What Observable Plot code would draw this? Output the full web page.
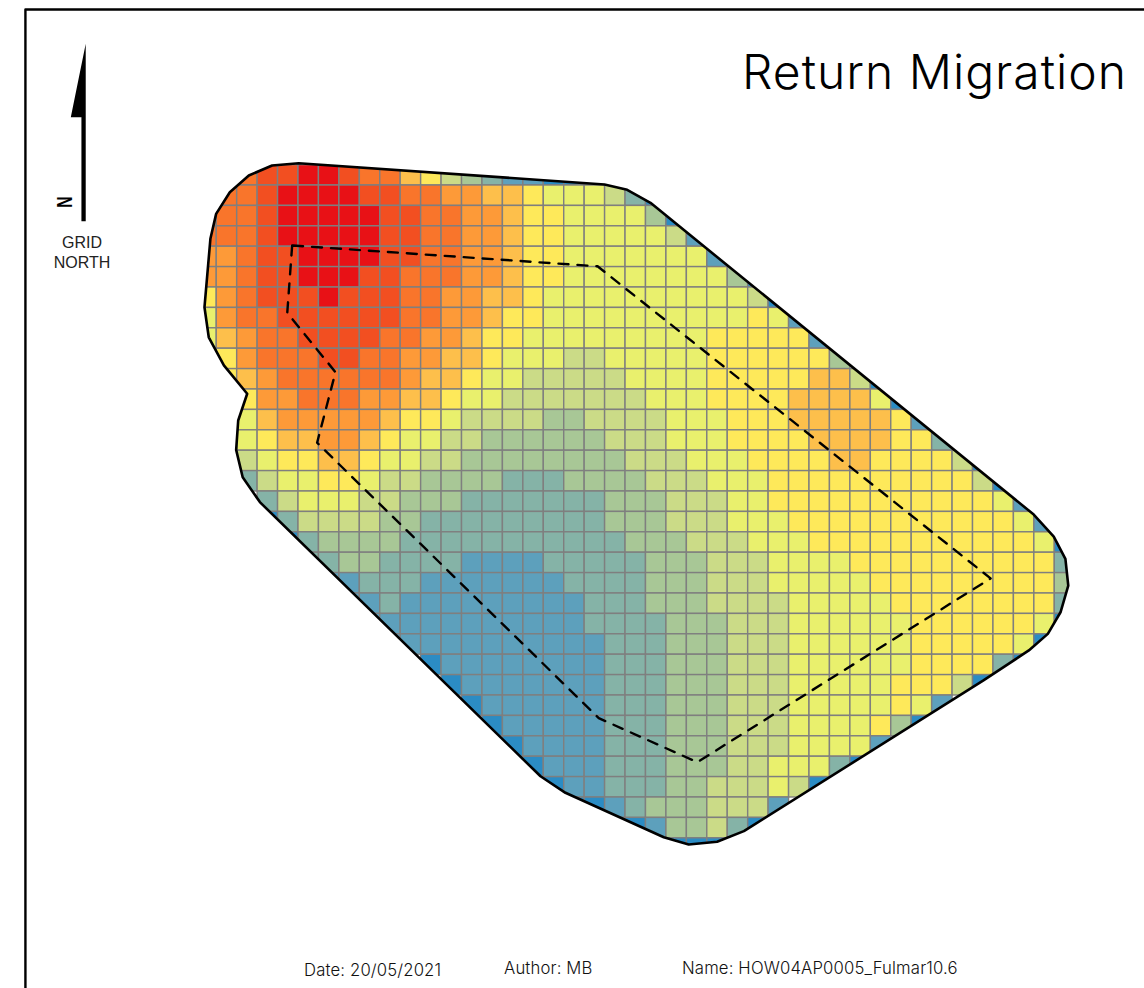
<!DOCTYPE html>
<html>
<head>
<meta charset="utf-8">
<script src="https://cdn.jsdelivr.net/npm/d3@7"></script>
<script src="https://cdn.jsdelivr.net/npm/@observablehq/plot@0.6"></script>
<style>
  html, body { margin: 0; padding: 0; background: #fff; overflow: hidden; }
  #page { position: relative; width: 1144px; height: 988px; }
  #page svg { display: block; }
  .lbl { position: absolute; white-space: nowrap; color: #000; line-height: 1; }
  .foot { font: 300 16.7px Inter, sans-serif; letter-spacing: 0.15px; color: #111; }
  .grid-north { font: 400 16px "Liberation Sans", Arial, sans-serif; color: #222; text-align: center; line-height: 19.8px; white-space: pre; }
</style>
</head>
<body>
<div id="page">
  <div class="lbl" id="title" style="left:742px;top:48px;font:300 48px/1 Inter,sans-serif;letter-spacing:1px;">Return Migration</div>
  <div class="lbl" style="left:55px;top:191px;width:20px;text-align:center;font:700 22px/22px 'Liberation Sans',sans-serif;transform:rotate(-90deg) scaleX(0.72);transform-origin:50% 50%;">N</div>
  <div class="lbl grid-north" style="left:42px;top:233px;width:80px;">GRID
NORTH</div>
  <div class="lbl foot" style="left:304px;top:960px;">Date: 20/05/2021</div>
  <div class="lbl foot" style="left:504px;top:958px;">Author: MB</div>
  <div class="lbl foot" style="left:682px;top:958px;">Name: HOW04AP0005_Fulmar10.6</div>
</div>
<script>
// Class of every grid cell, one string per row, one character per column ("." = no cell)
const cellRows = [
  "..9 aa bb a 99 7 6 4 3 2 11 0000",
  ".99 a bbbb aa 99 88 77 6 555 4 2 0",
  "999 a bbbbb aa 99 88 7 66 5555 3 0",
  "999 a bbbbb aa 99 88 7 66 55555 4 1",
  "889 aa bbbb aa 99 88 7 66 5555555 1",
  "889 aa bbb aa 999 88 7 66 55555555 3 0",
  "689 aaa b aaa 99 88 77 6 5555555555 4 0",
  "5899 aaaaaa 99 88 7 66 5555555555 6 5 1",
  "57899 aaaa 99 88 7 66 5 55555555 66666 1",
  ".68999 aa 99 88 77 6 555 44 55555 666666 3",
  ".678 999999 8 77 6 55 44444 5555 66666 77 4 0",
  "..688 999 88 77 6 55 4444444 555 6666 7777 5 0",
  "..57 88888 7 66 5 4444 33 4444 555 666 77777 6 1",
  "..56 77 88 7 6 55 44 333333 444 555 6666 7777 66 2",
  "..45 66 77 6 55 44 33333333 444 555 6666 77 6666 4 0",
  "..24 55 66 5 44 3333 222 3333 444 555 6666666666 4 0",
  "...24 555 44 333 2222222 333 444 55 66666666666 5 1",
  "...02 4444 33 222222222 333 444 555 66666666666 5 1",
  "....02 3333 22222222222 333 444 555 66666666666 5 0",
  ".....22 33 2222 1111 22222 333 444 5555 6666666666 2",
  "......11 222 1111111 2222 333 444 55555 666666666 3",
  ".......11 2 111111111 222 333 4444 55555 66666666 2",
  "........11111111111 2222 333 444 555555 666666 5 0",
  ".........11111111111 222 333 444 555555 66666 5 0",
  "...........0 11111111 222 333 444 555555 6666 2 0",
  "............0 1111111 222 333 444 55555 666 4 0",
  ".............0 111111 222 333 444 55555 6 5 1",
  "..............0 11111 222 333 444 5555 6 3 0",
  "...............0 1111 222 333 444 5555 1",
  "................0 111 222 333 44 555 2 0",
  ".................0 11 222 33 444 5 4 0",
  "..................00 1 2 333 444 1",
  "....................00 1 33 4 2 0",
  ".......................000"
].map(s => s.replace(/ /g, ""));

const classKeys = "0123456789ab".split("");
const classColors = ["#2b8cc4","#5da0bc","#85b3a7","#a8c796","#cbdb87","#e9f06d","#fee95a","#fdbf4b","#fd9a38","#f9752b","#f24f21","#e81116"];

// Site boundary and inner line, in grid units (column, row)
const boundaryCol = [5.01,3.71,2.57,1.64,0.97,0.69,0.40,0.61,1.35,2.49,2.05,1.95,2.27,3.11,16.84,18.06,22.87,24.09,25.48,26.79,38.51,40.73,41.66,42.28,42.66,42.52,41.95,40.97,22.22,21.08,19.97,5.01];
const boundaryRow = [-0.09,0.02,0.51,1.33,2.39,3.61,6.97,8.44,9.82,11.21,12.52,13.96,15.30,16.52,29.96,30.77,32.95,33.30,33.17,32.65,25.26,23.79,22.98,21.92,20.61,19.30,18.21,17.13,1.85,1.21,0.95,-0.09];
const innerCol = [4.69,4.45,6.81,5.91,19.69,24.51,38.86,19.63,4.69];
const innerRow = [3.94,7.24,10.15,13.61,27.11,29.27,20.26,4.96,3.94];

// Map furniture, same units
const frameCol = [-8.36,-8.36,46.5];
const frameRow = [40.5,-7.63,-7.63];
const arrowCol = [-5.41,-6.14,-5.62,-5.62,-5.41];
const arrowRow = [-5.95,-2.35,-2.35,2.75,2.75];

const zip = (xs, ys) => xs.map((x, i) => ({x, y: ys[i]}));
const cells = cellRows.flatMap((line, row) =>
  [...line].flatMap((c, col) => c === "." ? [] : [{col, row, cls: c}]));

const W = 1144, H = 988, cellW = 20.44, cellH = 20.4, originX = 195.8, originY = 164.6;
const boundary = zip(boundaryCol, boundaryRow);

const chart = Plot.plot({
  width: W, height: H,
  marginTop: 0, marginRight: 0, marginBottom: 0, marginLeft: 0,
  style: {background: "#fff"},
  x: {axis: null, domain: [-originX / cellW, (W - originX) / cellW], range: [0, W]},
  y: {axis: null, domain: [-originY / cellH, (H - originY) / cellH], range: [0, H]},
  color: {type: "ordinal", domain: classKeys, range: classColors},
  marks: [
    Plot.rect(cells, {
      x1: "col", x2: d => d.col + 1, y1: "row", y2: d => d.row + 1,
      fill: "cls", stroke: "#7f7f7f", strokeWidth: 1.4
    }),
    Plot.line(boundary, {x: "x", y: "y", stroke: "#000", strokeWidth: 2.6, strokeLinejoin: "round"}),
    Plot.line(zip(innerCol, innerRow), {x: "x", y: "y", stroke: "#000", strokeWidth: 2.4, strokeDasharray: "10,9"}),
    Plot.line(zip(frameCol, frameRow), {x: "x", y: "y", stroke: "#000", strokeWidth: 2.4}),
    Plot.line(zip(arrowCol, arrowRow), {x: "x", y: "y", fill: "#000", stroke: "none"})
  ]
});

// Clip the coloured cells to the site boundary
const xs = chart.scale("x"), ys = chart.scale("y");
const NS = "http://www.w3.org/2000/svg";
const defs = document.createElementNS(NS, "defs");
const clip = document.createElementNS(NS, "clipPath");
clip.setAttribute("id", "site-clip");
const poly = document.createElementNS(NS, "polygon");
poly.setAttribute("points", boundary.map(p => xs.apply(p.x) + "," + ys.apply(p.y)).join(" "));
clip.appendChild(poly); defs.appendChild(clip); chart.appendChild(defs);
chart.querySelector('g[aria-label="rect"]').setAttribute("clip-path", "url(#site-clip)");

const page = document.getElementById("page");
page.insertBefore(chart, page.firstChild);
</script>
</body>
</html>
